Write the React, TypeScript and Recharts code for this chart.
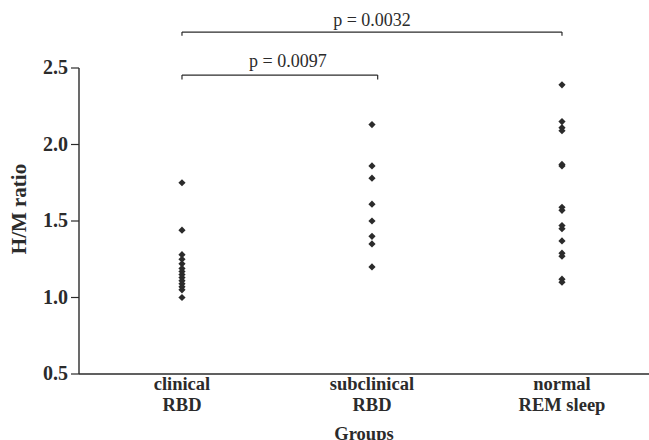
import React from 'react';
import { ScatterChart, Scatter, XAxis, YAxis, ReferenceLine } from 'recharts';

const groupPositions = [1, 2, 3];
const groupLine1 = ['clinical', 'subclinical', 'normal'];
const groupLine2 = ['RBD', 'RBD', 'REM sleep'];
const yTicks = [0.5, 1.0, 1.5, 2.0, 2.5];

const clinicalValues = [1.75, 1.44, 1.28, 1.25, 1.22, 1.19, 1.17, 1.15, 1.13, 1.11, 1.09, 1.07, 1.05, 1.0];
const subclinicalValues = [2.13, 1.86, 1.78, 1.61, 1.5, 1.4, 1.35, 1.2];
const normalValues = [2.39, 2.15, 2.11, 2.09, 1.87, 1.86, 1.59, 1.57, 1.47, 1.45, 1.37, 1.29, 1.27, 1.12, 1.1];

const pLabels = ['p = 0.0032', 'p = 0.0097'];

const toPoints = (xv: number, vals: number[]) => vals.map((v) => ({ x: xv, y: v }));
const clinicalData = toPoints(groupPositions[0], clinicalValues);
const subclinicalData = toPoints(groupPositions[1], subclinicalValues);
const normalData = toPoints(groupPositions[2], normalValues);

const FONT = '"Liberation Serif", "Times New Roman", serif';
const INK = '#2b2b2b';

const Diamond = (props: any) => {
  const { cx, cy } = props;
  if (cx == null || cy == null) return null;
  const r = 3.6;
  return <path d={`M${cx},${cy - r}L${cx + r},${cy}L${cx},${cy + r}L${cx - r},${cy}Z`} fill={INK} />;
};

const XTick = (props: any) => {
  const { x, y, payload } = props;
  const i = groupPositions.indexOf(payload.value);
  if (i < 0) return null;
  return (
    <g>
      <text x={x} y={y + 8} textAnchor="middle" fontFamily={FONT} fontWeight="bold" fontSize={18.5} fill={INK}>
        {groupLine1[i]}
      </text>
      <text x={x} y={y + 29} textAnchor="middle" fontFamily={FONT} fontWeight="bold" fontSize={18.5} fill={INK}>
        {groupLine2[i]}
      </text>
    </g>
  );
};

const YTick = (props: any) => {
  const { x, y, payload } = props;
  return (
    <text x={x} y={y + 6} textAnchor="end" fontFamily={FONT} fontWeight="bold" fontSize={20} fill={INK}>
      {payload.value.toFixed(1)}
    </text>
  );
};

const YLabel = (props: any) => {
  const vb = props.viewBox || {};
  const cy = (vb.y ?? 68) + (vb.height ?? 306) / 2 - 12;
  const cx = 19;
  return (
    <text
      x={cx}
      y={cy}
      transform={`rotate(-90, ${cx}, ${cy})`}
      textAnchor="middle"
      dominantBaseline="central"
      fontFamily={FONT}
      fontWeight="bold"
      fontSize={21}
      fill={INK}
    >
      H/M ratio
    </text>
  );
};

const bracketStroke = { stroke: INK, strokeWidth: 1.2 };

export default function App() {
  return (
    <div style={{ position: 'absolute', left: 0, top: 0, width: 649, height: 440, background: '#fff' }}>
      <ScatterChart width={649} height={440} margin={{ top: 68, right: 0, bottom: 0, left: 0 }}>
        <XAxis
          type="number"
          dataKey="x"
          domain={[0.458, 3.458]}
          ticks={groupPositions}
          tick={<XTick />}
          tickLine={false}
          height={66}
          axisLine={{ stroke: INK, strokeWidth: 1.6 }}
          allowDataOverflow
          label={{ value: 'Groups', position: 'insideBottom', offset: 0, fontFamily: FONT, fontWeight: 'bold', fontSize: 18.5, fill: INK }}
        />
        <YAxis
          type="number"
          dataKey="y"
          domain={[0.5, 2.5]}
          ticks={yTicks}
          width={79}
          tick={<YTick />}
          tickSize={8}
          tickMargin={3}
          tickLine={{ stroke: INK, strokeWidth: 1.2 }}
          axisLine={{ stroke: INK, strokeWidth: 1.4 }}
          allowDataOverflow
          label={<YLabel />}
        />
        <Scatter data={clinicalData} shape={<Diamond />} isAnimationActive={false} />
        <Scatter data={subclinicalData} shape={<Diamond />} isAnimationActive={false} />
        <Scatter data={normalData} shape={<Diamond />} isAnimationActive={false} />

        <ReferenceLine
          segment={[{ x: 1, y: 2.735 }, { x: 3, y: 2.735 }]}
          ifOverflow="visible"
          {...bracketStroke}
          label={{ value: pLabels[0], position: 'top', offset: 6, fontFamily: FONT, fontSize: 18, fill: INK }}
        />
        <ReferenceLine segment={[{ x: 1, y: 2.735 }, { x: 1, y: 2.71 }]} ifOverflow="visible" {...bracketStroke} />
        <ReferenceLine segment={[{ x: 3, y: 2.735 }, { x: 3, y: 2.71 }]} ifOverflow="visible" {...bracketStroke} />

        <ReferenceLine
          segment={[{ x: 1, y: 2.454 }, { x: 2.03, y: 2.454 }]}
          ifOverflow="visible"
          {...bracketStroke}
          label={{ value: pLabels[1], position: 'top', offset: 8, dx: 8, fontFamily: FONT, fontSize: 18, fill: INK }}
        />
        <ReferenceLine segment={[{ x: 1, y: 2.454 }, { x: 1, y: 2.425 }]} ifOverflow="visible" {...bracketStroke} />
        <ReferenceLine segment={[{ x: 2.03, y: 2.454 }, { x: 2.03, y: 2.425 }]} ifOverflow="visible" {...bracketStroke} />
      </ScatterChart>
    </div>
  );
}
